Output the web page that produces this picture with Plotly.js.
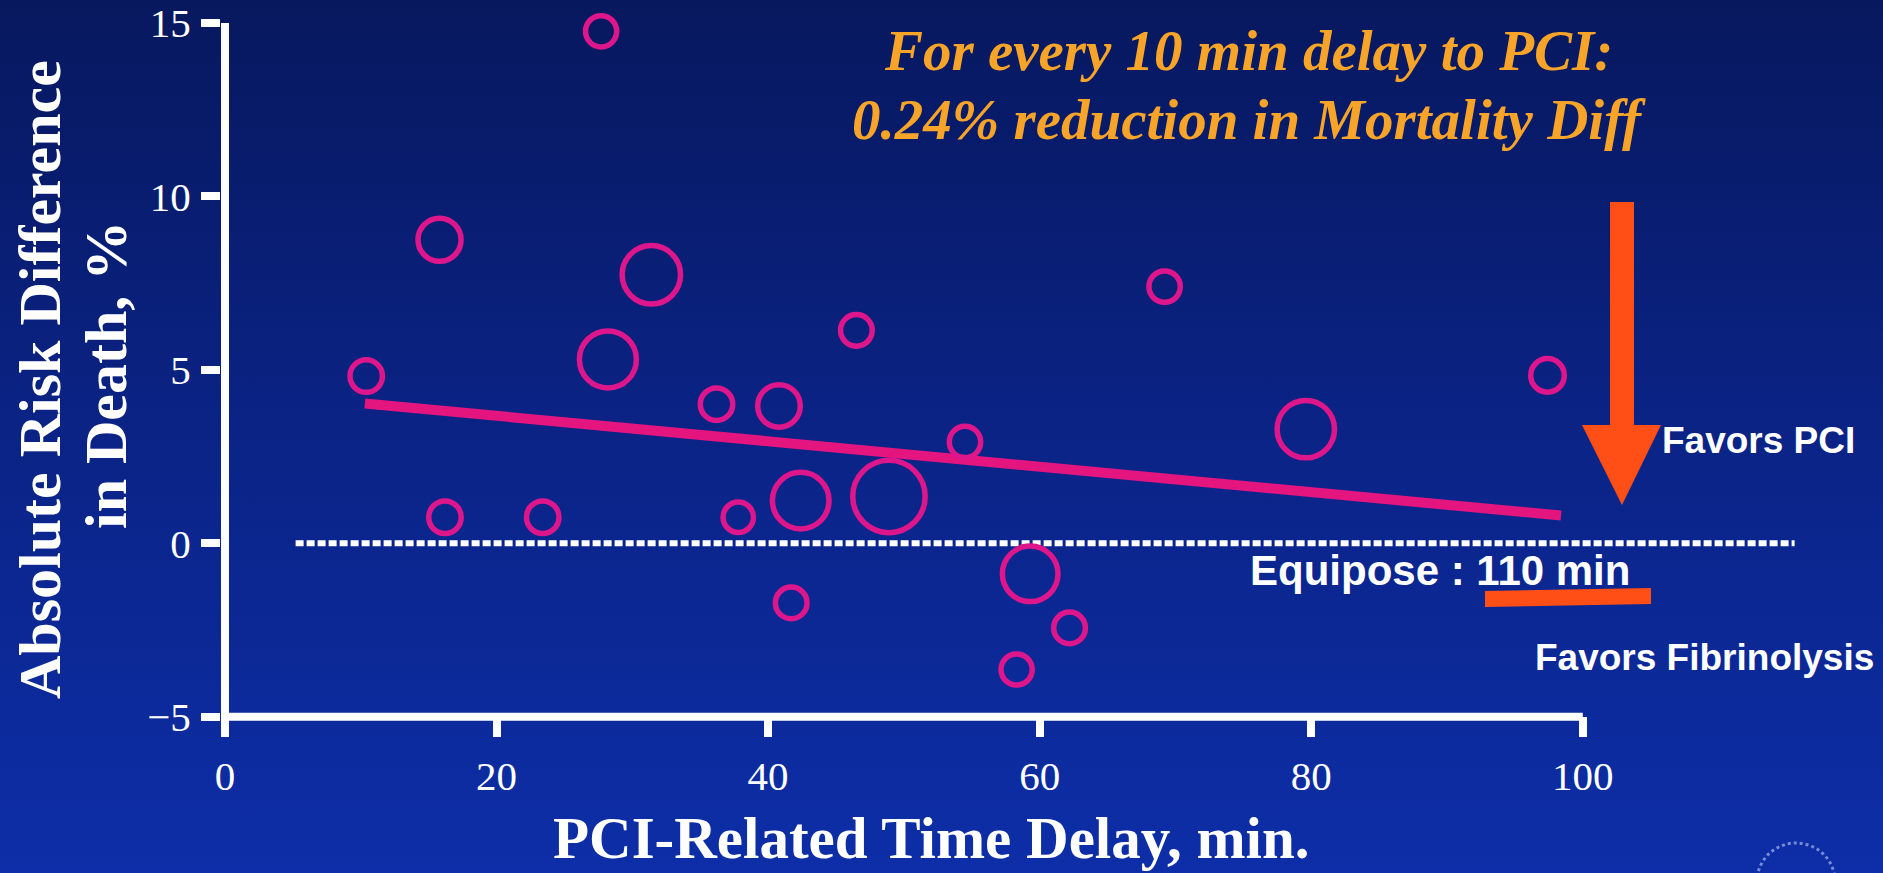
<!DOCTYPE html>
<html>
<head>
<meta charset="utf-8">
<script src="https://cdn.plot.ly/plotly-3.0.1.min.js"></script>
<style>
  html, body {
    margin: 0; padding: 0; width: 1883px; height: 873px; overflow: hidden;
    background: linear-gradient(to bottom, #07185e 0%, #0a2282 45%, #0d2ea8 100%);
  }
  #chart { width: 1883px; height: 873px; }
</style>
</head>
<body>
<div id="chart"></div>
<script>
// PCI-related time delay per trial, minutes
const delayMin = [10.4, 15.8, 16.2, 23.4, 27.7, 28.2, 31.4, 36.2, 37.8, 40.8, 41.7,
                  42.4, 46.5, 48.9, 54.5, 58.3, 59.3, 62.2, 69.2, 79.6, 97.4];
// absolute risk difference in death (fibrinolysis minus PCI), %
const riskDiff = [4.82, 8.75, 0.75, 0.75, 14.76, 5.30, 7.74, 4.01, 0.75, 3.96, -1.72,
                  1.23, 6.14, 1.35, 2.92, -3.64, -0.88, -2.44, 7.40, 3.29, 4.84];
// relative trial weight (bubble area)
const trialWeight = [1.03, 1.81, 1.03, 1.03, 0.95, 3.17, 3.33, 1.03, 0.90, 1.77, 0.98,
                     3.13, 0.98, 5.12, 0.96, 0.95, 3.02, 0.98, 0.96, 3.22, 1.10];
// weighted regression line
const fitX = [10.3, 98.4];
const fitY = [4.03, 0.80];
// no-difference reference line
const refX = [5.2, 115.6];
const refY = [0, 0];
// axis ticks
const xTicks = [0, 20, 40, 60, 80, 100];
const yTicks = [-5, 0, 5, 10, 15];
const yTickText = ['\u22125', '0', '5', '10', '15'];

// plot frame in page pixels
const L = 221, T = 23, W = 1662, H = 714;
const xPerMin = 13.578;          // px per minute
const yPerPct = 34.685;          // px per percentage point
const xStart = -4 / xPerMin;     // zero sits in the middle of the 8px y-axis stroke
const yBottom = -5 - 20.3 / yPerPct;

// page-pixel helpers for the decorations around the plot
const PX = px => (px - L) / W;
const PY = py => (T + H - py) / H;
const pathOf = pts => 'M ' + pts.map(p => PX(p[0]).toFixed(5) + ',' + PY(p[1]).toFixed(5)).join(' L ') + ' Z';

const white = '#ffffff';
const pink = '#de168c';
const orange = '#ff4f17';
const serif = 'Liberation Serif, Times New Roman, serif';
const sans = 'Liberation Sans, Arial, sans-serif';

const traces = [
  {
    x: refX, y: refY, type: 'scatter', mode: 'lines', hoverinfo: 'skip',
    line: { color: white, width: 6, dash: '8px,3px' }
  },
  {
    x: fitX, y: fitY, type: 'scatter', mode: 'lines', hoverinfo: 'skip',
    line: { color: '#e4157f', width: 10 }
  },
  {
    x: delayMin, y: riskDiff, type: 'scatter', mode: 'markers', cliponaxis: false,
    marker: {
      symbol: 'circle', size: trialWeight, sizemode: 'area', sizeref: 1 / 512, opacity: 1,
      color: 'rgba(0,0,0,0)', line: { color: pink, width: 5.5 }
    }
  }
];

const layout = {
  width: 1883, height: 873,
  margin: { l: L, r: 1883 - L - W, t: T, b: 873 - T - H },
  paper_bgcolor: 'rgba(0,0,0,0)', plot_bgcolor: 'rgba(0,0,0,0)',
  showlegend: false,
  xaxis: {
    range: [xStart, xStart + W / xPerMin], showgrid: false, zeroline: false, showline: false,
    ticks: 'inside', ticklen: 20, tickwidth: 8, tickcolor: white,
    tickvals: xTicks, ticktext: xTicks.map(String), ticklabelstandoff: 11,
    tickfont: { family: serif, size: 41, color: white }
  },
  yaxis: {
    range: [yBottom, yBottom + H / yPerPct], showgrid: false, zeroline: false, showline: false,
    ticks: 'outside', ticklen: 19, tickwidth: 8, tickcolor: white,
    tickvals: yTicks, ticktext: yTickText, ticklabelstandoff: 2,
    tickfont: { family: serif, size: 41, color: white }
  },
  shapes: [
    // y axis from -5 region up to 15
    { type: 'line', xref: 'x', yref: 'y', x0: 0, x1: 0, y0: yBottom, y1: 15,
      line: { color: white, width: 8 } },
    // x axis baseline ending at 100 min
    { type: 'line', xref: 'x', yref: 'y', x0: 0, x1: 100, y0: -5, y1: -5,
      line: { color: white, width: 8 } },
    // downward arrow marking the equipoise point
    { type: 'path', xref: 'paper', yref: 'paper', fillcolor: orange, line: { width: 0 },
      path: pathOf([[1610, 202], [1634, 202], [1634, 425], [1661, 425], [1622, 505], [1582, 425], [1610, 425]]) },
    // underline beneath "110 min"
    { type: 'path', xref: 'paper', yref: 'paper', fillcolor: orange, line: { width: 0 },
      path: pathOf([[1485, 591], [1651, 588], [1651, 604], [1485, 607]]) },
    // society seal in the corner
    { type: 'circle', xref: 'paper', yref: 'paper',
      x0: PX(1757), x1: PX(1835), y0: PY(920), y1: PY(843),
      line: { color: 'rgba(205,215,255,0.55)', width: 3, dash: 'dot' } }
  ],
  annotations: [
    { text: '<b><i>For every 10 min delay to PCI:</i></b>', xref: 'paper', yref: 'paper',
      x: PX(1248), y: PY(51), xanchor: 'center', yanchor: 'middle', showarrow: false,
      font: { family: serif, size: 57, color: '#f7a428' } },
    { text: '<b><i>0.24% reduction in Mortality Diff</i></b>', xref: 'paper', yref: 'paper',
      x: PX(1249), y: PY(120), xanchor: 'center', yanchor: 'middle', showarrow: false,
      font: { family: serif, size: 57, color: '#f7a428' } },
    { text: '<b>PCI-Related Time Delay, min.</b>', xref: 'paper', yref: 'paper',
      x: PX(931), y: PY(838), xanchor: 'center', yanchor: 'middle', showarrow: false,
      font: { family: serif, size: 59, color: white } },
    { text: '<b>Absolute Risk Difference</b>', xref: 'paper', yref: 'paper', textangle: -90,
      x: PX(40), y: PY(380), xanchor: 'center', yanchor: 'middle', showarrow: false,
      font: { family: serif, size: 60, color: white } },
    { text: '<b>in Death, %</b>', xref: 'paper', yref: 'paper', textangle: -90,
      x: PX(106), y: PY(375), xanchor: 'center', yanchor: 'middle', showarrow: false,
      font: { family: serif, size: 60, color: white } },
    { text: '<b>Favors PCI</b>', xref: 'paper', yref: 'paper',
      x: PX(1660), y: PY(441), xanchor: 'left', yanchor: 'middle', showarrow: false,
      font: { family: sans, size: 37, color: white } },
    { text: '<b>Equipose : 110 min</b>', xref: 'paper', yref: 'paper',
      x: PX(1440), y: PY(570), xanchor: 'center', yanchor: 'middle', showarrow: false,
      font: { family: sans, size: 42, color: white } },
    { text: '<b>Favors Fibrinolysis</b>', xref: 'paper', yref: 'paper',
      x: PX(1533), y: PY(657), xanchor: 'left', yanchor: 'middle', showarrow: false,
      font: { family: sans, size: 37, color: white } }
  ]
};

Plotly.newPlot('chart', traces, layout, { displayModeBar: false, staticPlot: true });
</script>
</body>
</html>
